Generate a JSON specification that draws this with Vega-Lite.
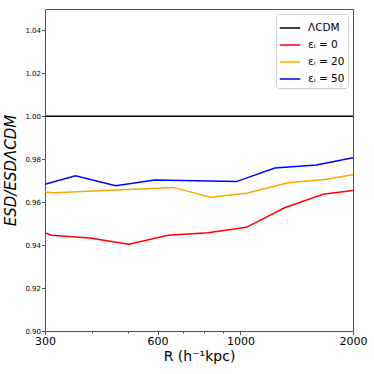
{
  "$schema": "https://vega.github.io/schema/vega-lite/v6.json",
  "width": 308,
  "height": 322,
  "autosize": {"type": "none"},
  "padding": {"left": 45, "top": 9, "right": 21, "bottom": 43},
  "background": "white",
  "config": {
    "font": "DejaVu Sans",
    "view": {"stroke": "#555555", "strokeWidth": 1}
  },
  "data": {
    "values": [
      {"series": "ΛCDM", "R": 300, "ratio": 1.0},
      {"series": "ΛCDM", "R": 2000, "ratio": 1.0},
      {"series": "εᵢ = 0", "R": 300, "ratio": 0.9458},
      {"series": "εᵢ = 0", "R": 312, "ratio": 0.9446},
      {"series": "εᵢ = 0", "R": 395, "ratio": 0.9433},
      {"series": "εᵢ = 0", "R": 503, "ratio": 0.9404},
      {"series": "εᵢ = 0", "R": 640, "ratio": 0.9446},
      {"series": "εᵢ = 0", "R": 819, "ratio": 0.9458},
      {"series": "εᵢ = 0", "R": 1037, "ratio": 0.9483},
      {"series": "εᵢ = 0", "R": 1313, "ratio": 0.9574},
      {"series": "εᵢ = 0", "R": 1663, "ratio": 0.9637},
      {"series": "εᵢ = 0", "R": 2000, "ratio": 0.9654},
      {"series": "εᵢ = 20", "R": 300, "ratio": 0.9647},
      {"series": "εᵢ = 20", "R": 318, "ratio": 0.9644},
      {"series": "εᵢ = 20", "R": 660, "ratio": 0.9669},
      {"series": "εᵢ = 20", "R": 831, "ratio": 0.9623},
      {"series": "εᵢ = 20", "R": 1040, "ratio": 0.9642},
      {"series": "εᵢ = 20", "R": 1340, "ratio": 0.9691},
      {"series": "εᵢ = 20", "R": 1700, "ratio": 0.9707},
      {"series": "εᵢ = 20", "R": 2000, "ratio": 0.9728},
      {"series": "εᵢ = 50", "R": 300, "ratio": 0.9683},
      {"series": "εᵢ = 50", "R": 362, "ratio": 0.9723},
      {"series": "εᵢ = 50", "R": 464, "ratio": 0.9677},
      {"series": "εᵢ = 50", "R": 590, "ratio": 0.9703},
      {"series": "εᵢ = 50", "R": 975, "ratio": 0.9696},
      {"series": "εᵢ = 50", "R": 1236, "ratio": 0.9759},
      {"series": "εᵢ = 50", "R": 1597, "ratio": 0.9773},
      {"series": "εᵢ = 50", "R": 2000, "ratio": 0.9807}
    ]
  },
  "mark": {"type": "line", "strokeWidth": 1.5, "clip": true},
  "encoding": {
    "x": {
      "field": "R",
      "type": "quantitative",
      "scale": {"type": "log", "domain": [300, 2000], "nice": false},
      "axis": {
        "title": "R (h⁻¹kpc)",
        "titleFontSize": 14,
        "titleFontWeight": "normal",
        "titleColor": "black",
        "titlePadding": 3,
        "values": [300, 400, 500, 600, 700, 800, 900, 1000, 2000],
        "labelExpr": "(datum.value == 300 || datum.value == 600 || datum.value == 1000 || datum.value == 2000) ? datum.value : ''",
        "labelFontSize": 11,
        "labelColor": "black",
        "labelPadding": 1,
        "labelFlush": false,
        "labelOverlap": false,
        "tickSize": {"condition": {"test": "datum.value == 300 || datum.value == 600 || datum.value == 1000 || datum.value == 2000", "value": 3.5}, "value": 2},
        "tickColor": "#555555",
        "domain": false,
        "grid": false
      }
    },
    "y": {
      "field": "ratio",
      "type": "quantitative",
      "scale": {"domain": [0.9, 1.05], "nice": false, "zero": false},
      "axis": {
        "title": "ESD/ESDΛCDM",
        "titleFontSize": 15,
        "titleFontStyle": "italic",
        "titleFontWeight": "normal",
        "titleColor": "black",
        "titlePadding": 6,
        "values": [0.9, 0.92, 0.94, 0.96, 0.98, 1.0, 1.02, 1.04],
        "format": ".2f",
        "labelFontSize": 7,
        "labelColor": "black",
        "labelPadding": 1,
        "labelFlush": false,
        "tickSize": 3.5,
        "tickColor": "#555555",
        "domain": false,
        "grid": false
      }
    },
    "color": {
      "field": "series",
      "type": "nominal",
      "scale": {
        "domain": ["ΛCDM", "εᵢ = 0", "εᵢ = 20", "εᵢ = 50"],
        "range": ["#000000", "#ff0000", "#ffa500", "#0000ff"]
      },
      "legend": {
        "title": null,
        "orient": "top-right",
        "offset": 5,
        "padding": 3,
        "rowPadding": -5,
        "strokeColor": "#cccccc",
        "fillColor": "white",
        "cornerRadius": 3,
        "symbolType": "stroke",
        "symbolSize": 420,
        "symbolStrokeWidth": 1.5,
        "labelFontSize": 10.5,
        "labelColor": "black",
        "labelOffset": 7
      }
    }
  }
}
